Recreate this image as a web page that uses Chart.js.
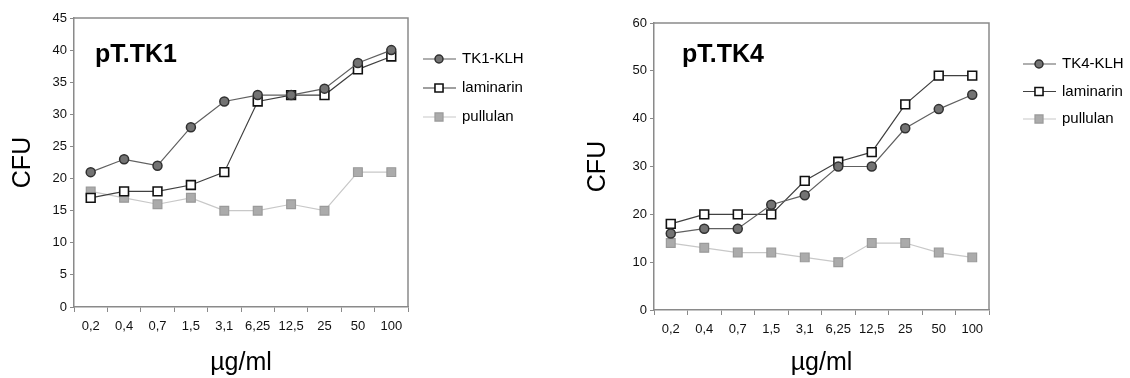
<!DOCTYPE html>
<html>
<head>
<meta charset="utf-8">
<title>CFU vs dose</title>
<script src="https://cdn.jsdelivr.net/npm/chart.js@4.4.1/dist/chart.umd.min.js"></script>
<style>
    html, body { margin: 0; padding: 0; background: #fff; }
    canvas { position: absolute; top: 0; }
    #chartTk1 { left: 0; }
    #chartTk4 { left: 560px; }
</style>
</head>
<body>
<canvas id="chartTk1" width="560" height="378"></canvas>
<canvas id="chartTk4" width="570" height="378"></canvas>
<script>
// Doses (x categories)
const doses = ['0,2', '0,4', '0,7', '1,5', '3,1', '6,25', '12,5', '25', '50', '100'];

// pT.TK1 panel
const tk1Klh = [21, 23, 22, 28, 32, 33, 33, 34, 38, 40];
const tk1Laminarin = [17, 18, 18, 19, 21, 32, 33, 33, 37, 39];
const tk1Pullulan = [18, 17, 16, 17, 15, 15, 16, 15, 21, 21];

// pT.TK4 panel
const tk4Klh = [16, 17, 17, 22, 24, 30, 30, 38, 42, 45];
const tk4Laminarin = [18, 20, 20, 20, 27, 31, 33, 43, 49, 49];
const tk4Pullulan = [14, 13, 12, 12, 11, 10, 14, 14, 12, 11];

((document) => {
    'use strict';

    const sansFont = '"Liberation Sans", Arial, sans-serif';

    // Frame on top/right, panel label and legend
    const panelDecor = {
        id: 'panelDecor',
        afterDraw(chart, args, opts) {
            const ctx = chart.ctx;
            const area = chart.chartArea;
            ctx.save();

            ctx.strokeStyle = '#8a8a8a';
            ctx.lineWidth = 1.5;
            ctx.beginPath();
            ctx.moveTo(area.left, area.top);
            ctx.lineTo(area.right, area.top);
            ctx.lineTo(area.right, area.bottom);
            ctx.stroke();

            ctx.fillStyle = '#000';
            ctx.font = 'bold 25px ' + sansFont;
            ctx.textBaseline = 'alphabetic';
            ctx.fillText(opts.label, opts.labelX, opts.labelY);

            ctx.font = '15px ' + sansFont;
            ctx.textBaseline = 'middle';
            chart.data.datasets.forEach((ds, i) => {
                const x = opts.legendX;
                const y = opts.legendY + i * opts.legendGap;
                ctx.strokeStyle = ds.borderColor;
                ctx.lineWidth = ds.borderWidth;
                ctx.beginPath();
                ctx.moveTo(x, y);
                ctx.lineTo(x + 33, y);
                ctx.stroke();

                ctx.fillStyle = ds.pointBackgroundColor;
                ctx.strokeStyle = ds.pointBorderColor;
                ctx.lineWidth = ds.pointBorderWidth;
                Chart.helpers.drawPoint(ctx, {
                    pointStyle: ds.pointStyle,
                    radius: ds.pointRadius - 0.5,
                    borderWidth: ds.pointBorderWidth,
                    rotation: 0
                }, x + 16, y);

                ctx.fillStyle = '#000';
                ctx.fillText(ds.label, x + 39, y);
            });
            ctx.restore();
        }
    };

    function makeDatasets(klhLabel, klh, laminarin, pullulan) {
        return [{
            label: klhLabel,
            data: klh,
            borderColor: '#606060',
            borderWidth: 1.2,
            pointStyle: 'circle',
            pointRadius: 4.5,
            pointBackgroundColor: '#737373',
            pointBorderColor: '#303030',
            pointBorderWidth: 1.5
        }, {
            label: 'laminarin',
            data: laminarin,
            borderColor: '#404040',
            borderWidth: 1.2,
            pointStyle: 'rect',
            pointRadius: 6.2,
            pointBackgroundColor: '#ffffff',
            pointBorderColor: '#111111',
            pointBorderWidth: 1.6
        }, {
            label: 'pullulan',
            data: pullulan,
            borderColor: '#c8c8c8',
            borderWidth: 1.2,
            pointStyle: 'rect',
            pointRadius: 6.2,
            pointBackgroundColor: '#ababab',
            pointBorderColor: '#9a9a9a',
            pointBorderWidth: 1.2
        }];
    }

    function makeConfig(p) {
        return {
            type: 'line',
            data: {
                labels: doses,
                datasets: makeDatasets(p.klhLabel, p.klh, p.laminarin, p.pullulan)
            },
            options: {
                responsive: false,
                animation: false,
                devicePixelRatio: 1,
                layout: {
                    padding: { top: p.top, right: p.right, bottom: 0, left: 0 }
                },
                plugins: {
                    legend: { display: false },
                    tooltip: { enabled: false },
                    panelDecor: p.decor
                },
                scales: {
                    x: {
                        offset: true,
                        grid: {
                            offset: true,
                            drawOnChartArea: false,
                            tickLength: 5,
                            color: '#8a8a8a'
                        },
                        border: { color: '#8a8a8a', width: 1.5 },
                        ticks: {
                            color: '#111',
                            padding: 7,
                            maxRotation: 0,
                            autoSkip: false,
                            font: { family: sansFont, size: 13 }
                        },
                        title: {
                            display: true,
                            text: 'µg/ml',
                            color: '#000',
                            font: { family: sansFont, size: 25 },
                            padding: { top: 0, bottom: 0 }
                        },
                        afterFit(scale) {
                            scale.height = p.xHeight;
                        }
                    },
                    y: {
                        min: 0,
                        max: p.yMax,
                        grid: {
                            drawOnChartArea: false,
                            tickLength: 4,
                            color: '#8a8a8a'
                        },
                        border: { color: '#8a8a8a', width: 1.5 },
                        ticks: {
                            stepSize: p.yStep,
                            color: '#111',
                            padding: 3,
                            font: { family: sansFont, size: 13 }
                        },
                        title: {
                            display: true,
                            text: 'CFU',
                            color: '#000',
                            font: { family: sansFont, size: 25 },
                            padding: { top: p.titlePad, bottom: 0 }
                        },
                        afterFit(scale) {
                            scale.width = p.yWidth;
                        }
                    }
                }
            },
            plugins: [panelDecor]
        };
    }

    new Chart(document.getElementById('chartTk1'), makeConfig({
        klhLabel: 'TK1-KLH',
        klh: tk1Klh,
        laminarin: tk1Laminarin,
        pullulan: tk1Pullulan,
        yMax: 45,
        yStep: 5,
        top: 18,
        right: 152,
        xHeight: 71,
        yWidth: 74,
        titlePad: 8,
        decor: {
            label: 'pT.TK1', labelX: 95, labelY: 62,
            legendX: 423, legendY: 59, legendGap: 29
        }
    }));

    new Chart(document.getElementById('chartTk4'), makeConfig({
        klhLabel: 'TK4-KLH',
        klh: tk4Klh,
        laminarin: tk4Laminarin,
        pullulan: tk4Pullulan,
        yMax: 60,
        yStep: 10,
        top: 23,
        right: 141,
        xHeight: 68,
        yWidth: 94,
        titlePad: 23,
        decor: {
            label: 'pT.TK4', labelX: 122, labelY: 62,
            legendX: 463, legendY: 64, legendGap: 27.5
        }
    }));
})(document);
</script>
</body>
</html>
